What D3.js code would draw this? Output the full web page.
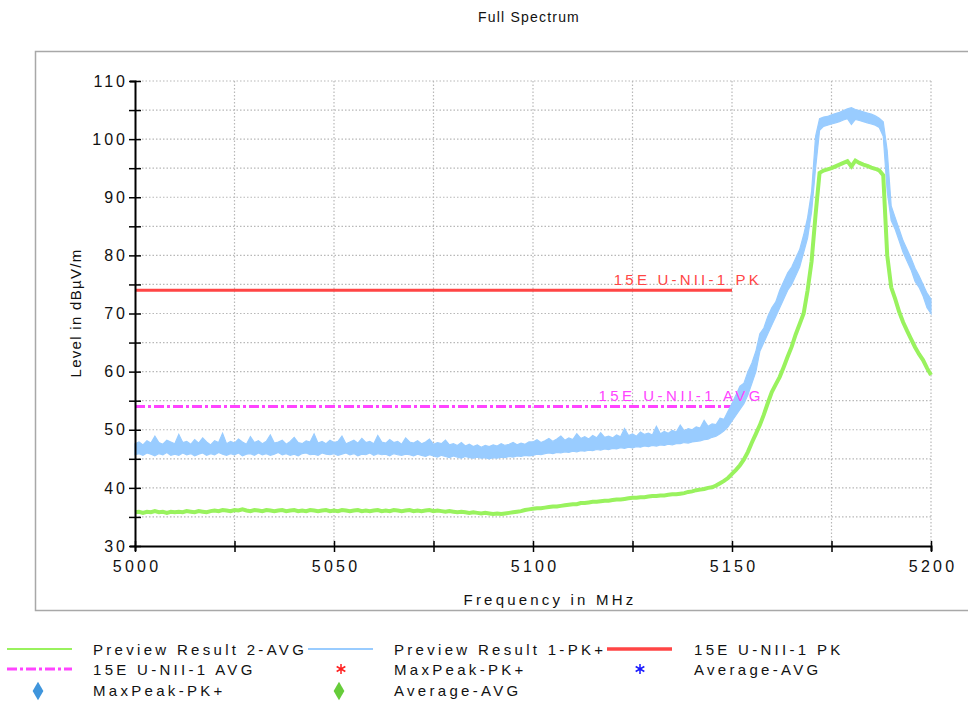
<!DOCTYPE html>
<html>
<head>
<meta charset="utf-8">
<script src="https://cdn.jsdelivr.net/npm/d3@7"></script>
<style>
  body { margin: 0; background: #fff; }
  svg text { font-family: "Liberation Sans", Arial, sans-serif; fill: #111; }
</style>
</head>
<body>
<svg id="chart" width="968" height="703"></svg>
<script>
// sweep grid: 5000 .. 5200 MHz, one reading per MHz
const freqStart = 5000, freqStep = 1;

// Preview Result 1-PK+ : lower / upper edge of the noisy peak trace (dBµV/m)
const pkLow = [
  45.7, 45.9, 45.6, 46.0, 45.8, 45.5, 45.9, 45.7, 46.1, 45.6,
  45.8, 45.6, 46.0, 45.7, 45.9, 45.5, 45.8, 46.0, 45.6, 45.9,
  45.7, 46.1, 45.8, 45.6, 45.9, 45.7, 46.0, 45.5, 45.8, 45.9,
  45.6, 46.0, 45.7, 45.9, 45.6, 45.8, 46.1, 45.7, 45.9, 45.6,
  45.8, 45.5, 45.9, 46.0, 45.7, 45.8, 45.6, 46.0, 45.8, 45.7,
  45.9, 45.6, 45.8, 46.0, 45.7, 45.9, 45.5, 45.8, 45.7, 46.0,
  45.6, 45.9, 45.7, 45.8, 45.5, 45.9, 45.7, 45.6, 45.8, 45.7,
  45.5, 45.8, 45.6, 45.4, 45.7, 45.5, 45.3, 45.6, 45.4, 45.2,
  45.5, 45.3, 45.1, 45.4, 45.2, 45.1, 45.3, 45.1, 45.2, 45.0,
  45.2, 45.1, 45.3, 45.2, 45.4, 45.3, 45.5, 45.4, 45.6, 45.5,
  45.6, 45.8, 45.7, 45.9, 46.0, 45.9, 46.1, 46.0, 46.2, 46.1,
  46.3, 46.2, 46.4, 46.3, 46.5, 46.4, 46.6, 46.5, 46.7, 46.6,
  46.8, 46.7, 46.9, 46.8, 47.0, 46.9, 47.1, 47.0, 47.2, 47.1,
  47.3, 47.2, 47.4, 47.3, 47.5, 47.4, 47.6, 47.6, 47.8, 47.7,
  47.9, 48.0, 48.1, 48.3, 48.4, 48.7, 48.9, 49.3, 49.8, 50.5,
  51.5, 52.5, 53.5, 54.5, 56.0, 58.0, 60.0, 63.5, 65.0, 66.5,
  68.0, 69.5, 71.0, 72.5, 74.0, 75.0, 76.5, 78.0, 80.5, 83.0,
  87.5, 95.0, 101.5, 102.2, 102.4, 102.6, 102.8, 103.0, 103.3, 103.5,
  102.5, 103.4, 103.2, 103.0, 102.8, 102.6, 102.4, 102.0, 100.5, 91.0,
  86.0, 84.5, 82.5, 80.5, 79.0, 77.5, 75.5, 74.5, 73.0, 71.0,
  70.0
];
const pkHigh = [
  47.6, 47.9, 47.4, 48.1, 47.7, 48.9, 47.8, 47.5, 48.2, 47.9,
  47.6, 49.2, 47.8, 48.0, 47.5, 48.3, 47.7, 48.6, 47.9, 47.4,
  48.1, 47.8, 49.4, 47.6, 48.0, 47.7, 48.4, 47.9, 47.5, 48.8,
  47.8, 48.1, 47.6, 48.0, 49.1, 47.7, 47.9, 48.2, 47.5, 48.0,
  48.7, 47.8, 47.6, 48.1, 47.9, 49.3, 47.7, 48.0, 47.6, 48.2,
  47.8, 48.0, 48.9, 47.6, 47.9, 48.2, 47.7, 48.5, 47.8, 48.0,
  47.6, 49.0, 47.9, 47.7, 48.3, 47.8, 48.0, 47.5, 48.6, 47.9,
  47.7, 48.1, 47.6, 47.9, 48.4, 47.5, 47.8, 47.6, 48.2, 47.4,
  47.6, 47.3, 47.8, 47.2, 47.5, 47.1, 47.4, 47.0, 47.3, 47.1,
  47.4, 47.2, 47.6, 47.3, 47.5, 47.8, 47.4, 47.7, 47.5, 47.9,
  47.9, 48.3, 47.8, 48.1, 48.5, 48.0, 48.4, 48.9, 48.2, 48.6,
  48.3, 49.3, 48.5, 48.8, 48.4, 49.0, 48.6, 49.5, 48.7, 48.9,
  48.6, 49.1, 48.8, 50.2, 49.0, 49.3, 48.9, 49.6, 49.2, 49.4,
  49.1, 50.6, 49.3, 49.7, 49.4, 49.9, 49.6, 50.8, 49.8, 50.2,
  50.0, 50.5, 50.3, 51.6, 50.6, 51.0, 50.9, 52.0, 51.8, 53.2,
  54.5, 56.0, 57.5, 58.0, 60.0, 61.5, 63.5, 66.5, 67.5, 69.5,
  71.0, 72.0, 74.0, 75.5, 77.0, 78.0, 79.5, 81.0, 83.5, 86.5,
  91.0, 100.5, 103.5, 103.8, 103.9, 104.2, 104.4, 104.6, 104.9, 105.2,
  105.4, 105.1, 104.9, 104.7, 104.5, 104.3, 104.0, 103.6, 103.0, 98.0,
  88.5, 86.5, 84.5, 82.5, 81.0, 79.5, 77.8, 76.5, 75.0, 73.5,
  72.5
];

// Preview Result 2-AVG (dBµV/m)
const avgLevel = [
  35.8, 35.9, 35.7, 35.9, 35.8, 36.0, 35.8, 35.9, 35.7, 35.9,
  35.8, 35.9, 35.8, 36.0, 35.9, 35.8, 36.0, 35.9, 35.8, 36.0,
  36.1, 36.0, 36.2, 36.1, 36.0, 36.2, 36.1, 36.3, 36.1, 36.0,
  36.2, 36.1, 36.0, 36.2, 36.1, 36.0, 36.1, 36.2, 36.0, 36.1,
  36.2, 36.0, 36.1, 36.0, 36.2, 36.1, 36.0, 36.1, 36.2, 36.0,
  36.1, 36.0, 36.2, 36.1, 36.0, 36.1, 36.2, 36.0, 36.1, 36.0,
  36.1, 36.2, 36.0, 36.1, 36.0, 36.2, 36.1, 36.0, 36.1, 36.2,
  36.0, 36.1, 36.0, 36.1, 36.2, 36.0, 36.1, 36.0, 35.9, 36.0,
  35.9, 35.8, 35.9, 35.8, 35.7, 35.8, 35.7, 35.6, 35.7, 35.6,
  35.5, 35.6, 35.5, 35.6, 35.7, 35.8, 35.9, 36.0, 36.2, 36.3,
  36.4, 36.5, 36.5, 36.6, 36.7, 36.8, 36.8, 36.9, 37.0, 37.1,
  37.2, 37.2, 37.4, 37.4, 37.5, 37.6, 37.6, 37.7, 37.8, 37.8,
  37.9, 38.0, 38.0, 38.1, 38.2, 38.3, 38.3, 38.4, 38.4, 38.5,
  38.6, 38.6, 38.7, 38.7, 38.8, 38.9, 38.9, 39.0, 39.1, 39.3,
  39.4, 39.6, 39.7, 39.8, 40.0, 40.1, 40.4, 40.8, 41.2, 41.7,
  42.4, 43.1, 43.9, 44.9, 46.2, 47.8, 49.3, 50.8, 52.6, 54.6,
  56.5, 57.8, 59.1, 60.8, 62.6, 64.3, 66.4, 68.2, 70.0, 74.0,
  79.0, 87.0, 94.2, 94.6, 94.8, 95.0, 95.3, 95.6, 95.9, 96.2,
  95.3, 96.3, 95.9, 95.6, 95.4, 95.1, 94.9, 94.6, 93.8, 80.0,
  74.5, 72.5, 70.3, 68.5, 67.0, 65.6, 64.2, 63.0, 62.0, 60.6,
  59.4
];

// limit lines
const limitFreq = [5000, 5150];
const pkLimit = [74, 74];
const avgLimit = [54, 54];

const xTickValues = [5000, 5025, 5050, 5075, 5100, 5125, 5150, 5175, 5200];
const yTickValues = [30, 35, 40, 45, 50, 55, 60, 65, 70, 75, 80, 85, 90, 95, 100, 105, 110];

const colGreen = "#99f25e", colBlue = "#99ccff", colRed = "#ff4545", colMagenta = "#ff44ff";

const svg = d3.select("#chart");

let x = d3.scaleLinear().domain([5000, 5200]).range([135, 931]);
let y = d3.scaleLinear().domain([30, 110]).range([546, 81]);

// outer frame
svg.append("rect")
  .attr("x", 35.5).attr("y", 51.5)
  .attr("width", 940).attr("height", 559)
  .attr("fill", "none")
  .attr("stroke", "#a8a8a8")
  .attr("stroke-width", 1.5);

svg.append("text")
  .attr("x", 529).attr("y", 22)
  .attr("text-anchor", "middle")
  .style("font-size", "14px")
  .style("letter-spacing", "1.2px")
  .text("Full Spectrum");

// grid
let grid = svg.append("g").attr("class", "grid");
grid.selectAll(".vgrid")
  .data(xTickValues.filter(d => d > 5000))
  .enter().append("line")
  .attr("x1", d => x(d)).attr("x2", d => x(d))
  .attr("y1", y(110)).attr("y2", y(30))
  .style("stroke", "#b8b8b8")
  .style("stroke-dasharray", "1.5,2")
  .style("stroke-width", 1.2);
grid.selectAll(".hgrid")
  .data(yTickValues.filter(d => d > 30))
  .enter().append("line")
  .attr("x1", x(5000)).attr("x2", x(5200))
  .attr("y1", d => y(d)).attr("y2", d => y(d))
  .style("stroke", "#b8b8b8")
  .style("stroke-dasharray", "1.5,2")
  .style("stroke-width", 1.2);

// limit lines
let limLine = d3.line()
  .x((d, i) => x(limitFreq[i]))
  .y(d => y(d));

svg.append("path")
  .attr("d", limLine(pkLimit))
  .attr("fill", "none")
  .attr("stroke", colRed)
  .attr("stroke-width", 3);

svg.append("path")
  .attr("d", limLine(avgLimit))
  .attr("fill", "none")
  .attr("stroke", colMagenta)
  .attr("stroke-width", 3)
  .attr("stroke-dasharray", "10,3,3,3");

// traces
let fx = (d, i) => x(freqStart + i * freqStep);

let pkArea = d3.area()
  .x(fx)
  .y0((d, i) => y(pkLow[i]))
  .y1((d, i) => y(pkHigh[i]));

svg.append("path")
  .attr("d", pkArea(pkHigh))
  .attr("fill", colBlue)
  .attr("stroke", colBlue)
  .attr("stroke-width", 1.2);

let avgLine = d3.line().x(fx).y(d => y(d));

svg.append("path")
  .attr("d", avgLine(avgLevel))
  .attr("fill", "none")
  .attr("stroke", colGreen)
  .attr("stroke-width", 4);

// limit labels
svg.append("text")
  .attr("x", x(limitFreq[1]) + 30).attr("y", y(pkLimit[1]) - 5)
  .attr("text-anchor", "end")
  .style("font-size", "15px")
  .style("letter-spacing", "3.2px")
  .style("fill", colRed)
  .text("15E U-NII-1 PK");

svg.append("text")
  .attr("x", x(limitFreq[1]) + 32).attr("y", y(avgLimit[1]) - 6)
  .attr("text-anchor", "end")
  .style("font-size", "15px")
  .style("letter-spacing", "3.5px")
  .style("fill", colMagenta)
  .text("15E U-NII-1 AVG");

// axes
let xAxis = d3.axisBottom(x)
  .tickValues(xTickValues)
  .tickSize(5)
  .tickPadding(10)
  .tickFormat(d => d % 50 === 0 ? d : "");

let gx = svg.append("g")
  .attr("class", "x axis")
  .attr("transform", "translate(0," + y(30) + ")")
  .call(xAxis);
gx.select(".domain").attr("stroke", "#000").attr("stroke-width", 2);
gx.selectAll(".tick line").attr("y1", -5).attr("y2", 6).attr("stroke", "#000").attr("stroke-width", 1.5);
gx.selectAll(".tick text")
  .attr("dx", "1.6px")
  .style("font-size", "16px")
  .style("letter-spacing", "3.3px")
  .style("font-family", "Liberation Sans, Arial, sans-serif")
  .style("fill", "#111");

let yAxis = d3.axisLeft(y)
  .tickValues(yTickValues)
  .tickSize(5)
  .tickPadding(4)
  .tickFormat(d => d % 10 === 0 ? d : "");

let gy = svg.append("g")
  .attr("class", "y axis")
  .attr("transform", "translate(" + x(5000) + ",0)")
  .call(yAxis);
gy.select(".domain").attr("stroke", "#000").attr("stroke-width", 2);
gy.selectAll(".tick line").attr("x1", 6).attr("x2", -6).attr("stroke", "#000").attr("stroke-width", 1.5);
gy.selectAll(".tick text")
  .attr("dx", "2px")
  .style("font-size", "16px")
  .style("letter-spacing", "3px")
  .style("font-family", "Liberation Sans, Arial, sans-serif")
  .style("fill", "#111");

// axis titles
svg.append("text")
  .attr("x", 550).attr("y", 605)
  .attr("text-anchor", "middle")
  .style("font-size", "15px")
  .style("letter-spacing", "3.2px")
  .text("Frequency in MHz");

svg.append("text")
  .attr("transform", "translate(81,313) rotate(-90)")
  .attr("text-anchor", "middle")
  .style("font-size", "15px")
  .style("letter-spacing", "1.3px")
  .text("Level in dBµV/m");

// legend
const legendNames = ["Preview Result 2-AVG", "Preview Result 1-PK+", "15E U-NII-1 PK",
  "15E U-NII-1 AVG", "MaxPeak-PK+", "Average-AVG",
  "MaxPeak-PK+", "Average-AVG"];
const legendKinds = ["line", "line", "line", "dashdot", "asterisk", "asterisk", "diamond", "diamond"];
const legendColors = [colGreen, colBlue, colRed, colMagenta, "#ff2020", "#1a1aff", "#3f95dc", "#66cc3a"];

let colX = [7, 308, 607];
let textX = [93, 394, 694];
let rowY = [649, 669, 690];

let legend = svg.append("g").attr("class", "legend");
legendNames.forEach(function (name, i) {
  let c = i % 3, r = Math.floor(i / 3);
  let g = legend.append("g");
  let kind = legendKinds[i];
  if (kind === "line" || kind === "dashdot") {
    g.append("line")
      .attr("x1", colX[c]).attr("x2", colX[c] + 65)
      .attr("y1", rowY[r]).attr("y2", rowY[r])
      .attr("stroke", legendColors[i])
      .attr("stroke-width", i === 2 ? 3.5 : (kind === "dashdot" ? 3 : 2))
      .attr("stroke-dasharray", kind === "dashdot" ? "10,3,3,3" : null);
  } else if (kind === "asterisk") {
    g.append("path")
      .attr("transform", "translate(" + (colX[c] + 33) + "," + rowY[r] + ")")
      .attr("d", d3.symbol().type(d3.symbolAsterisk).size(70)())
      .attr("fill", "none")
      .attr("stroke", legendColors[i])
      .attr("stroke-width", 1.5);
  } else {
    g.append("path")
      .attr("transform", "translate(" + (colX[c] + 31) + "," + (rowY[r] + 1) + ")")
      .attr("d", d3.symbol().type(d3.symbolDiamond).size(100)())
      .attr("fill", legendColors[i]);
  }
  g.append("text")
    .attr("x", textX[c]).attr("y", rowY[r] + 6)
    .style("font-size", "15px")
    .style("letter-spacing", "3.3px")
    .text(name);
});
</script>
</body>
</html>
